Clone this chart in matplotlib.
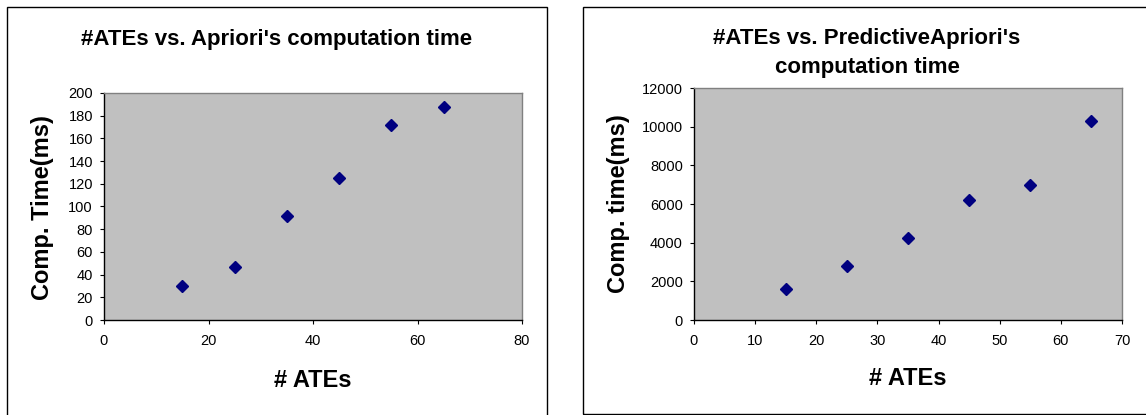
import matplotlib
matplotlib.use("Agg")
import matplotlib.pyplot as plt
from matplotlib.patches import Rectangle

plt.rcParams['font.family'] = ['Liberation Sans', 'DejaVu Sans']

# Number of ATEs and measured computation times
ates = [15, 25, 35, 45, 55, 65]
apriori_ms = [30, 47, 92, 125, 172, 188]
predictive_ms = [1600, 2800, 4250, 6200, 7000, 10300]

left_xticks = [0, 20, 40, 60, 80]
left_yticks = [0, 20, 40, 60, 80, 100, 120, 140, 160, 180, 200]
right_xticks = [0, 10, 20, 30, 40, 50, 60, 70]
right_yticks = [0, 2000, 4000, 6000, 8000, 10000, 12000]

W, H = 1146, 415
fig = plt.figure(figsize=(W / 100, H / 100), dpi=100)
fig.patch.set_facecolor('white')

TITLE_SIZE = 16
LABEL_SIZE = 17


def px_rect(x0, y0, x1, y1):
    """Convert pixel box (top-left origin) to figure-fraction rect."""
    return [x0 / W, 1 - y1 / H, (x1 - x0) / W, (y1 - y0) / H]


def style_axes(ax, xticks, yticks, xlim, ylim):
    ax.set_facecolor('#C0C0C0')
    ax.set_xlim(*xlim)
    ax.set_ylim(*ylim)
    ax.set_xticks(xticks)
    ax.set_yticks(yticks)
    for side in ('left', 'bottom'):
        ax.spines[side].set_color('black')
        ax.spines[side].set_linewidth(1.0)
    for side in ('top', 'right'):
        ax.spines[side].set_color('#808080')
        ax.spines[side].set_linewidth(1.0)
    ax.tick_params(axis='both', direction='out', length=3, width=0.8,
                   labelsize=10.5, colors='black')
    ax.tick_params(axis='x', pad=7)
    ax.tick_params(axis='y', pad=5)


# Panel frames
fig.add_artist(Rectangle((7 / W, -0.05), (547 - 7) / W, 1.05 - 7 / H,
                         transform=fig.transFigure, fill=False,
                         edgecolor='black', linewidth=1.0))
fig.add_artist(Rectangle((583 / W, 1 - 414 / H), 0.6, (414 - 7) / H,
                         transform=fig.transFigure, fill=False,
                         edgecolor='black', linewidth=1.0))

# Left chart: Apriori
ax1 = fig.add_axes(px_rect(104, 93, 522, 320))
style_axes(ax1, left_xticks, left_yticks, (0, 80), (0, 200))
ax1.plot(ates, apriori_ms, linestyle='none', marker='D', markersize=6,
         color='#000080')
fig.text(277 / W, 1 - 45 / H, "#ATEs vs. Apriori's computation time",
         ha='center', va='baseline', fontsize=TITLE_SIZE, fontweight='bold')
fig.text(313 / W, 1 - 387 / H, "# ATEs", ha='center', va='baseline',
         fontsize=LABEL_SIZE, fontweight='bold')
fig.text(43 / W, 1 - 208 / H, "Comp. Time(ms)", ha='center', va='center',
         rotation=90, fontsize=LABEL_SIZE, fontweight='bold')

# Right chart: PredictiveApriori
ax2 = fig.add_axes(px_rect(694, 88, 1122, 320))
style_axes(ax2, right_xticks, right_yticks, (0, 70), (0, 12000))
ax2.plot(ates, predictive_ms, linestyle='none', marker='D', markersize=6,
         color='#000080')
fig.text(867 / W, 1 - 44 / H, "#ATEs vs. PredictiveApriori's",
         ha='center', va='baseline', fontsize=TITLE_SIZE, fontweight='bold')
fig.text(867 / W, 1 - 73 / H, "computation time",
         ha='center', va='baseline', fontsize=TITLE_SIZE, fontweight='bold')
fig.text(908 / W, 1 - 385 / H, "# ATEs", ha='center', va='baseline',
         fontsize=LABEL_SIZE, fontweight='bold')
fig.text(618 / W, 1 - 204 / H, "Comp. time(ms)", ha='center', va='center',
         rotation=90, fontsize=LABEL_SIZE, fontweight='bold')

fig.savefig('out.png', dpi=100, facecolor='white')
